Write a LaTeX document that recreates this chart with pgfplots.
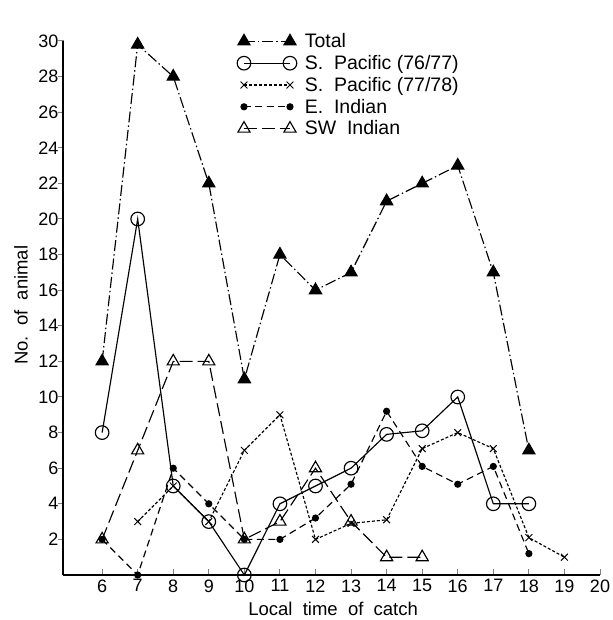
\documentclass[border=0pt]{standalone}
\usepackage{pgfplots}
\pgfplotsset{compat=1.18}
\usepackage{fontspec}
\setmainfont{Liberation Sans}
\begin{document}
\begin{tikzpicture}
\begin{axis}[
  scale only axis,
  width=537bp, height=534bp,
  xmin=4.9, xmax=20, ymin=0, ymax=30,
  axis lines=left,
  axis line style={line width=1.1bp, -},
  xtick={6,7,...,20},
  ytick={2,4,...,30},
  tick align=inside,
  major tick length=6bp,
  ytick style={xshift=-5bp, line width=1bp},
  xtick style={line width=1bp},
  /pgf/number format/assume math mode=true,
  tick label style={font=\fontsize{18bp}{20bp}\selectfont},
  yticklabel style={xshift=-1bp},
  xticklabel style={yshift=-1bp},
  xlabel={Local\ \ time\ \ of\ \ catch},
  ylabel={No.\ \ of\ \ animal},
  label style={font=\fontsize{18.5bp}{20bp}\selectfont},
  xlabel style={at={(axis description cs:0.503,-0.064)}, anchor=center},
  ylabel style={at={(axis description cs:-0.078,0.505)}, anchor=center, rotate=0},
  legend style={at={(axis description cs:0.324,1.018)}, anchor=north west,
    draw=none, fill=none, font=\fontsize{19.5bp}{21bp}\selectfont,
    row sep=2.2bp, inner sep=0pt, cells={anchor=west},
    /tikz/every odd column/.append style={column sep=6bp}},
  legend cell align=left,
  legend image code/.code={\draw[mark repeat=2,mark phase=1] plot coordinates {(0bp,0bp)(23bp,0bp)(46bp,0bp)};},
  every axis plot/.append style={line width=1.15bp, black},
  clip=false,
]
% Total
\addplot[dash pattern=on 11bp off 3bp on 1.5bp off 3bp, mark=triangle*, mark size=7bp, mark options={solid, fill=black}]
  coordinates {(6,12)(7,29.8)(8,28)(9,22)(10,11)(11,18)(12,16)(13,17)(14,21)(15,22)(16,23)(17,17)(18,7)};
\addlegendentry{Total}
% S. Pacific 76/77
\addplot[solid, mark=o, mark size=6.8bp, mark options={solid, fill=white}]
  coordinates {(6,8)(7,20)(8,5)(9,3)(10,0)(11,4)(12,5)(13,6)(14,7.9)(15,8.1)(16,10)(17,4)(18,4)};
\addlegendentry{S.\ \ Pacific (76/77)}
% S. Pacific 77/78
\addplot[dash pattern=on 3bp off 2bp, mark=x, mark size=4.8bp, mark options={solid, line width=1bp}]
  coordinates {(7,3)(8,5)(9,3)(10,7)(11,9)(12,2)(13,2.9)(14,3.1)(15,7.1)(16,8)(17,7.1)(18,2.1)(19,1)};
\addlegendentry{S.\ \ Pacific (77/78)}
% E. Indian
\addplot[dash pattern=on 7bp off 4.5bp, mark=*, mark size=3bp, mark options={solid, fill=black}]
  coordinates {(6,2)(7,0)(8,6)(9,4)(10,2)(11,2)(12,3.2)(13,5.1)(14,9.2)(15,6.1)(16,5.1)(17,6.1)(18,1.2)};
\addlegendentry{E.\ \ Indian}
% SW Indian
\addplot[dash pattern=on 13bp off 5bp, mark=triangle, mark size=7bp, mark options={solid, fill=white}]
  coordinates {(6,2)(7,7)(8,12)(9,12)(10,2)(11,3)(12,6)(13,3)(14,1)(15,1)};
\addlegendentry{SW\ \ Indian}
\end{axis}
\pgfresetboundingbox
\path (current axis.south west) ++(-63bp,-45bp) rectangle ++(613bp,620bp);
\end{tikzpicture}
\end{document}
